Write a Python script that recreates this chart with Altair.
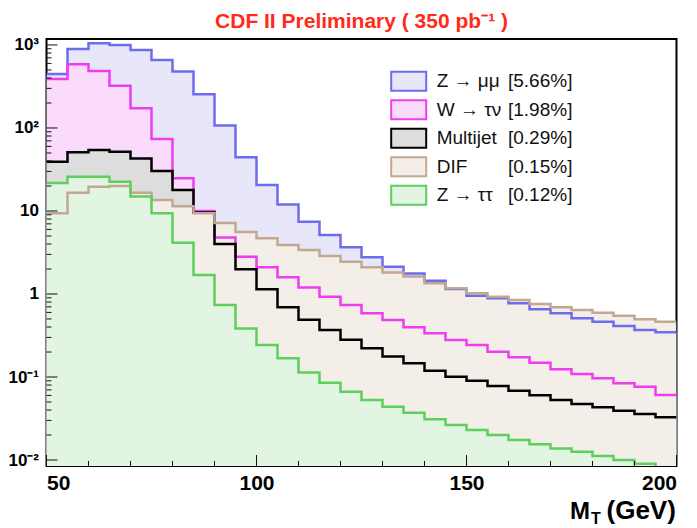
import altair as alt
import pandas as pd

# ---------------- data ----------------
BIN_EDGES = [50 + 5 * i for i in range(31)]  # 50 ... 200 GeV, 5 GeV bins

SERIES = ["Zmm", "Wtn", "MJ", "DIF", "Ztt"]
LEG_NAMES = ["Z \u2192 \u03bc\u03bc", "W \u2192 \u03c4\u03bd", "Multijet", "DIF", "Z \u2192 \u03c4\u03c4"]
LEG_PCT = ["[5.66%]", "[1.98%]", "[0.29%]", "[0.15%]", "[0.12%]"]

Z_MUMU = [447, 896, 1047, 1000, 871, 660, 478, 255, 107, 44.4,
          20.6, 12.0, 7.43, 5.14, 3.65, 2.77, 2.13, 1.77, 1.44, 1.15,
          0.95, 0.887, 0.773, 0.654, 0.585, 0.509, 0.464, 0.411, 0.368, 0.345]
W_TAUNU = [390, 585, 486, 323, 173, 73.6, 24.8, 10.0, 4.8, 2.81,
           2.10, 1.59, 1.20, 0.927, 0.736, 0.585, 0.486, 0.397, 0.336, 0.279,
           0.243, 0.202, 0.173, 0.149, 0.124, 0.109, 0.0964, 0.0839, 0.0764, 0.0607]
MULTIJET = [39.3, 51, 54.3, 51.8, 43, 30.3, 17.9, 9.6, 4.0, 1.98,
            1.14, 0.69, 0.49, 0.368, 0.282, 0.222, 0.176, 0.146, 0.119, 0.101,
            0.090, 0.078, 0.0685, 0.0602, 0.0528, 0.0473, 0.0431, 0.0393, 0.0358, 0.0327]
DIF = [9.4, 16.6, 19.6, 20.0, 16.6, 13.6, 11.4, 9.4, 7.15, 5.6,
       4.7, 3.89, 3.39, 2.87, 2.45, 2.10, 1.81, 1.62, 1.35, 1.17,
       1.02, 0.927, 0.847, 0.758, 0.691, 0.641, 0.595, 0.548, 0.496, 0.464]
Z_TAUTAU = [21.8, 25.9, 25.9, 22.5, 14.9, 9.4, 4.15, 1.69, 0.736, 0.385,
            0.243, 0.168, 0.113, 0.085, 0.0666, 0.053, 0.0439, 0.0372, 0.0309, 0.0264,
            0.023, 0.020, 0.0174, 0.0155, 0.0138, 0.0126, 0.0112, 0.010, 0.0090, 0.0080]

VALUES = [Z_MUMU, W_TAUNU, MULTIJET, DIF, Z_TAUTAU]

LINE_COL = ["#6c6cec", "#f03cf0", "#000000", "#c2a892", "#5ccf5c"]
FILL_COL = ["#e7e7f9", "#fbdbfb", "#dddddd", "#f4eee8", "#e2f5e2"]

X_MAJOR = [50, 100, 150, 200]
X_MINOR = [60, 70, 80, 90, 110, 120, 130, 140, 160, 170, 180, 190]
Y_MAJOR = [0.01, 0.1, 1, 10, 100, 1000]
Y_LABELS = ["10\u207b\u00b2", "10\u207b\u00b9", "1", "10", "10\u00b2", "10\u00b3"]
Y_MINOR = [d * k for d in [0.01, 0.1, 1, 10, 100] for k in range(2, 10)]

X_DOMAIN = [50, 200]
Y_DOMAIN = [0.00847, 1180]

W, H = 630, 427
FONT = "Liberation Sans"

# ---------------- tables ----------------
rows = []
for s, vals in zip(SERIES, VALUES):
    for i, e in enumerate(BIN_EDGES):
        rows.append({"series": s, "edge": e, "v": vals[min(i, len(vals) - 1)]})
hist = pd.DataFrame(rows)

legend_df = pd.DataFrame({
    "row": list(range(len(SERIES))),
    "name": LEG_NAMES,
    "pct": LEG_PCT,
    "fill": FILL_COL,
    "stroke": LINE_COL,
})

xmaj = pd.DataFrame({"t": X_MAJOR})
xmin = pd.DataFrame({"t": X_MINOR})
ymaj = pd.DataFrame({"t": Y_MAJOR})
ymin = pd.DataFrame({"t": Y_MINOR})

label_expr = " : ".join(
    f"datum.value < {v * 3.0} ? '{lab}'" for v, lab in zip(Y_MAJOR[:-1], Y_LABELS[:-1])
) + f" : '{Y_LABELS[-1]}'"

xscale = alt.Scale(domain=X_DOMAIN, nice=False, zero=False)
yscale = alt.Scale(type="log", domain=Y_DOMAIN, nice=False)

x_axis = alt.Axis(values=X_MAJOR, title=None, grid=False, ticks=False, domain=False,
                  labelFont=FONT, labelFontWeight="bold", labelFontSize=21,
                  labelPadding=6, labelColor="#000", orient="bottom")
y_axis = alt.Axis(values=Y_MAJOR, title=None, grid=False, ticks=False, domain=False,
                  labelFont=FONT, labelFontWeight="bold", labelFontSize=17,
                  labelPadding=8, labelColor="#000", labelExpr=label_expr, orient="left")


def X(field):
    return alt.X(f"{field}:Q", scale=xscale, axis=x_axis)


def Y(field):
    return alt.Y(f"{field}:Q", scale=yscale, axis=y_axis, stack=None)


base = alt.Chart(hist)
areas = []
lines = []
for s, fc, lc in zip(SERIES, FILL_COL, LINE_COL):
    areas.append(
        base.transform_filter(alt.datum.series == s)
        .mark_area(interpolate="step-after", color=fc, opacity=1, clip=True)
        .encode(x=X("edge"), y=Y("v"), y2=alt.value(H))
    )
    lines.append(
        base.transform_filter(alt.datum.series == s)
        .mark_line(interpolate="step-after", color=lc, strokeWidth=2.5, clip=True)
        .encode(x=X("edge"), y=Y("v"))
    )

tick_col = "#111"
xt_major = alt.Chart(xmaj).mark_rule(color=tick_col, strokeWidth=1).encode(
    x=X("t"), y=alt.value(H), y2=alt.value(H - 11))
xt_minor = alt.Chart(xmin).mark_rule(color=tick_col, strokeWidth=1).encode(
    x=X("t"), y=alt.value(H), y2=alt.value(H - 5))
yt_major = alt.Chart(ymaj).mark_rule(color=tick_col, strokeWidth=1).encode(
    y=Y("t"), x=alt.value(0), x2=alt.value(11))
yt_minor = alt.Chart(ymin).mark_rule(color=tick_col, strokeWidth=1).encode(
    y=Y("t"), x=alt.value(0), x2=alt.value(5))

main = alt.layer(*areas, *lines, xt_major, xt_minor, yt_major, yt_minor)

# ---------------- legend ----------------
leg_y = alt.Y("row:O", scale=alt.Scale(type="point", range=[42.2, 156.3], padding=0), axis=None)
swatch = alt.Chart(legend_df).mark_point(
    shape="M-1,-0.543H1V0.543H-1Z", size=1225, filled=True, opacity=1, strokeWidth=2
).encode(
    x=alt.value(362.2), y=leg_y,
    fill=alt.Fill("fill:N", scale=None), stroke=alt.Stroke("stroke:N", scale=None),
)
leg_name = alt.Chart(legend_df).mark_text(
    align="left", baseline="middle", font=FONT, fontSize=19, color="#111"
).encode(x=alt.value(390.2), y=leg_y, text="name:N")
leg_pct = alt.Chart(legend_df).mark_text(
    align="left", baseline="middle", font=FONT, fontSize=19, color="#111"
).encode(x=alt.value(461.5), y=leg_y, text="pct:N")

legend = alt.layer(swatch, leg_name, leg_pct)

# ---------------- titles ----------------
ann = pd.DataFrame({"k": [0]})
title_txt = alt.Chart(ann).mark_text(
    text="CDF II Preliminary ( 350 pb\u207b\u00b9 )", align="center", baseline="alphabetic",
    font=FONT, fontWeight="bold", fontSize=21, color="#ff2a1a"
).encode(x=alt.value(W / 2), y=alt.value(-10.7))
xt_M = alt.Chart(ann).mark_text(
    text="M", align="left", baseline="alphabetic", font=FONT, fontWeight="bold",
    fontSize=24, color="#000"
).encode(x=alt.value(523.5), y=alt.value(480.3))
xt_T = alt.Chart(ann).mark_text(
    text="T", align="left", baseline="alphabetic", font=FONT, fontWeight="bold",
    fontSize=16, color="#000"
).encode(x=alt.value(544.5), y=alt.value(484.5))
xt_G = alt.Chart(ann).mark_text(
    text="(GeV)", align="left", baseline="alphabetic", font=FONT, fontWeight="bold",
    fontSize=26, color="#000"
).encode(x=alt.value(560), y=alt.value(480.3))

chart = alt.layer(main, legend, title_txt, xt_M, xt_T, xt_G).resolve_scale(
    y="independent"
).properties(
    width=W, height=H,
    autosize=alt.AutoSizeParams(type="none"),
    padding={"left": 46.5, "top": 39, "right": 20.5, "bottom": 62},
    background="white",
).configure_view(stroke="#000", strokeWidth=2)

chart.save("out.html", embed_options={"renderer": "svg", "actions": False})
